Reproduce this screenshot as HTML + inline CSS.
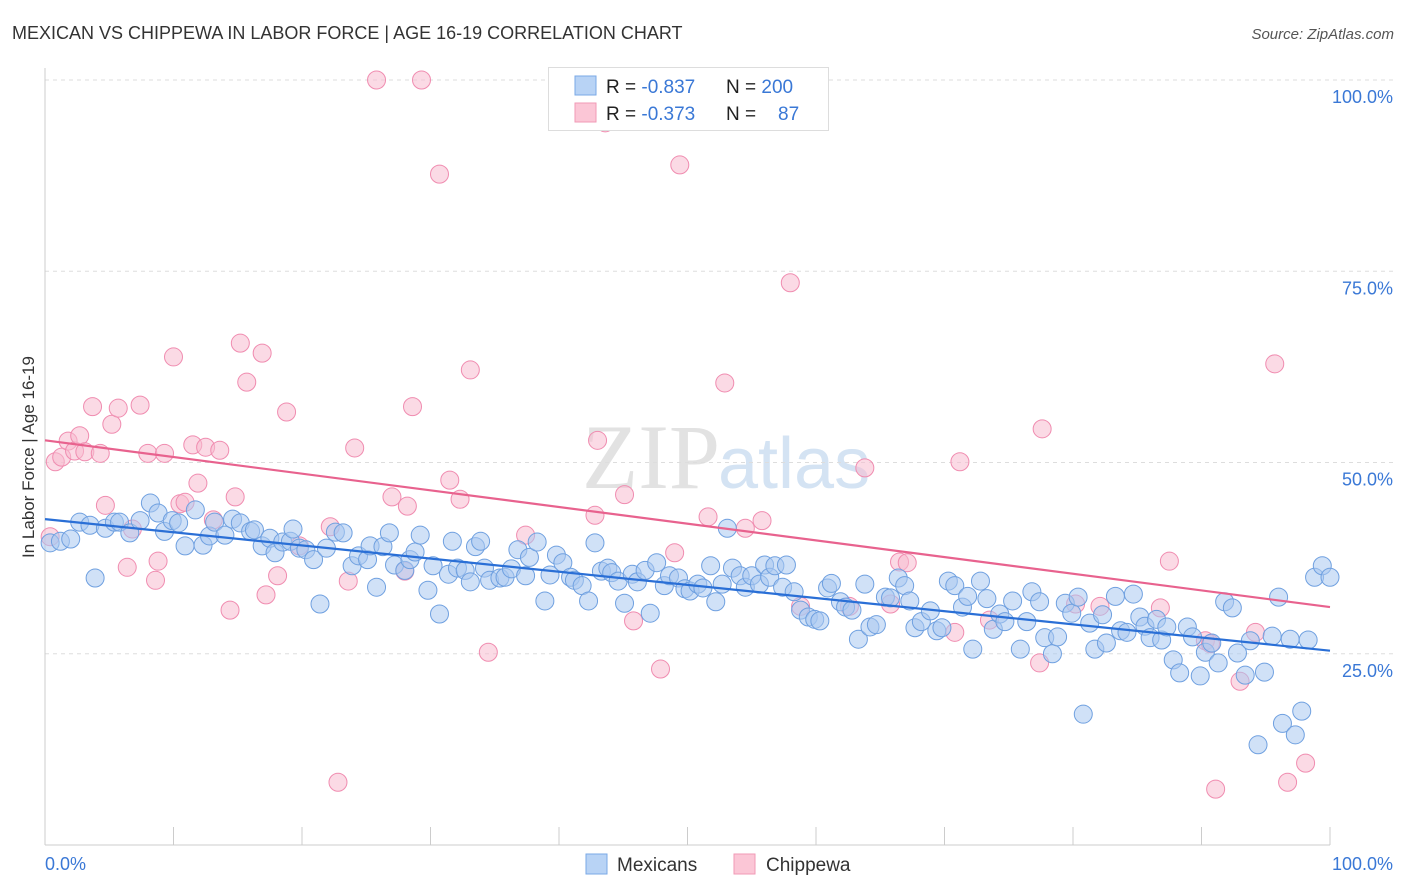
<!DOCTYPE html>
<html><head><meta charset="utf-8">
<style>
body{margin:0;background:#fff;width:1406px;height:892px;overflow:hidden;font-family:"Liberation Sans",sans-serif;}
svg{display:block}
</style></head>
<body>
<svg id="chart" width="1406" height="892">
<text x="12" y="39" font-size="18" fill="#333">MEXICAN VS CHIPPEWA IN LABOR FORCE | AGE 16-19 CORRELATION CHART</text>
<text x="1394" y="39" font-size="15" fill="#555" font-style="italic" text-anchor="end">Source: ZipAtlas.com</text>
<text x="720" y="488" font-size="92" fill="#e2e2e2" text-anchor="end" font-family="Liberation Serif,serif">ZIP</text>
<text x="718" y="488" font-size="72" fill="#d4e3f3">atlas</text>
<g id="grid"></g>
<g id="axes"></g>
<g id="pts"></g>
<g id="trends"></g>
<text transform="translate(34,457) rotate(-90)" font-size="17" fill="#333" text-anchor="middle">In Labor Force | Age 16-19</text>
<g>
<rect x="548.5" y="67.5" width="280" height="63" fill="#fff" stroke="#ddd"/>
<rect x="575" y="76" width="21" height="19" fill="#b8d3f5" stroke="#7aa8e6"/>
<rect x="575" y="103" width="21" height="19" fill="#fbc6d6" stroke="#f09ab6"/>
<text x="606" y="93" font-size="19" fill="#222">R = <tspan fill="#3a78d6">-0.837</tspan></text>
<text x="726" y="93" font-size="19" fill="#222">N = <tspan fill="#3a78d6">200</tspan></text>
<text x="606" y="120" font-size="19" fill="#222">R = <tspan fill="#3a78d6">-0.373</tspan></text>
<text x="726" y="120" font-size="19" fill="#222">N = <tspan fill="#3a78d6" x="778">87</tspan></text>
</g>
<g>
<rect x="586" y="854" width="21" height="20" fill="#b8d3f5" stroke="#7aa8e6"/>
<text x="617" y="871" font-size="19" fill="#333">Mexicans</text>
<rect x="734" y="854" width="21" height="20" fill="#fbc6d6" stroke="#f09ab6"/>
<text x="766" y="871" font-size="19" fill="#333">Chippewa</text>
</g>
</svg>
<script>
const blueX=[0.4,1.2,2.0,2.7,3.5,3.9,4.7,5.4,5.8,6.6,7.4,8.2,8.8,9.3,9.9,10.4,10.9,11.7,12.3,12.8,13.2,14.0,14.6,15.2,16.0,16.3,16.9,17.5,17.9,18.5,19.1,19.3,19.8,20.3,20.9,21.4,21.9,22.6,23.2,23.9,24.4,25.1,25.3,25.8,26.3,26.8,27.2,28.0,28.4,28.8,29.2,29.8,30.2,30.7,31.4,31.7,32.1,32.7,33.1,33.5,33.9,34.2,34.6,35.4,35.8,36.3,36.8,37.4,37.7,38.3,38.9,39.3,39.8,40.3,40.9,41.2,41.8,42.3,42.8,43.3,43.8,44.1,44.6,45.1,45.7,46.1,46.7,47.1,47.6,48.2,48.6,49.3,49.8,50.2,50.8,51.2,51.8,52.2,52.7,53.1,53.5,54.1,54.5,55.0,55.6,56.0,56.4,56.8,57.4,57.7,58.3,58.8,59.4,59.9,60.3,60.9,61.2,61.9,62.3,62.8,63.3,63.8,64.2,64.7,65.4,65.8,66.4,66.9,67.3,67.7,68.2,68.9,69.4,69.8,70.3,70.8,71.4,71.8,72.2,72.8,73.3,73.8,74.3,74.7,75.3,75.9,76.4,76.8,77.4,77.8,78.4,78.8,79.4,79.9,80.4,80.8,81.3,81.7,82.3,82.6,83.3,83.7,84.2,84.7,85.2,85.6,86.0,86.5,86.9,87.3,87.8,88.3,88.9,89.3,89.9,90.3,90.8,91.3,91.8,92.4,92.8,93.4,93.8,94.4,94.9,95.5,96.0,96.3,96.9,97.3,97.8,98.3,98.8,99.4,100];
const blueY=[39.5,39.7,40.0,42.2,41.8,34.9,41.4,42.2,42.2,40.8,42.4,44.7,43.4,41.0,42.4,42.1,39.1,43.8,39.2,40.4,42.2,40.5,42.6,42.1,41.0,41.2,39.1,40.1,38.2,39.6,39.7,41.3,38.8,38.6,37.3,31.5,38.8,40.9,40.8,36.5,37.8,37.3,39.1,33.7,39.0,40.8,36.6,35.9,37.3,38.3,40.5,33.3,36.5,30.2,35.4,39.7,36.2,35.9,34.4,39.0,39.7,36.2,34.6,34.9,35.0,36.1,38.6,35.2,37.6,39.6,31.9,35.3,37.9,36.9,35.0,34.6,33.9,31.9,39.5,35.8,36.2,35.6,34.5,31.6,35.4,34.4,35.9,30.3,36.9,33.9,35.2,34.9,33.5,33.2,34.1,33.6,36.5,31.8,34.1,41.4,36.2,35.2,33.7,35.2,34.1,36.6,35.0,36.5,33.7,36.6,33.1,30.7,29.8,29.5,29.3,33.6,34.2,31.8,31.1,30.7,26.9,34.1,28.5,28.8,32.4,32.3,34.9,33.9,31.9,28.4,29.2,30.6,28.0,28.4,34.5,33.9,31.1,32.5,25.6,34.5,32.2,28.2,30.2,29.2,31.9,25.6,29.2,33.1,31.8,27.1,25.0,27.2,31.6,30.3,32.4,17.1,29.0,25.6,30.1,26.4,32.5,28.0,27.8,32.8,29.8,28.6,27.1,29.5,26.8,28.5,24.2,22.5,28.5,27.2,22.1,25.2,26.4,23.8,31.8,31.0,25.1,22.2,26.7,13.1,22.6,27.3,32.4,15.9,26.9,14.4,17.5,26.8,35.0,36.5,35.0];
const pinkX=[0.4,0.8,1.3,1.8,2.3,2.7,3.1,3.7,4.3,4.7,5.2,5.7,6.4,6.8,7.4,8.0,8.6,8.8,9.3,10.0,10.5,10.9,11.5,11.9,12.5,13.1,13.6,14.4,14.8,15.2,15.7,16.9,17.2,18.1,18.8,19.8,22.2,22.8,23.6,24.1,25.8,27.0,28.0,28.2,28.6,29.3,30.7,31.5,32.3,33.1,34.5,37.4,42.8,43.0,45.1,45.8,47.9,49.0,49.4,51.6,52.9,54.5,55.8,58.0,58.8,62.6,63.8,65.8,66.5,67.1,70.8,71.2,73.5,77.4,77.6,80.2,82.1,86.8,87.5,90.3,90.7,91.1,93.0,94.2,95.7,96.7,98.1,43.6];
const pinkY=[40.3,50.1,50.7,52.8,51.5,53.5,51.4,57.3,51.2,44.4,55.0,57.1,36.3,41.3,57.5,51.2,34.6,37.1,51.2,63.8,44.6,44.8,52.3,47.3,52.0,42.5,51.6,30.7,45.5,65.6,60.5,64.3,32.7,35.2,56.6,39.1,41.6,8.2,34.5,51.9,100,45.5,35.8,44.3,57.3,100,87.7,47.7,45.2,62.1,25.2,40.5,43.1,52.9,45.8,29.3,23.0,38.2,88.9,42.9,60.4,41.4,42.4,73.5,31.2,31.2,49.3,31.5,37.0,36.9,27.8,50.1,29.4,23.8,54.4,31.5,31.2,31.0,37.1,26.7,26.3,7.3,21.4,27.8,62.9,8.2,10.7,94.4];
const blueTrend=[42.6,25.4];
const pinkTrend=[52.9,31.1];
const yTicks=[25,50,75,100];
const yTickLabels=["25.0%","50.0%","75.0%","100.0%"];
const xTicks=[0,10,20,30,40,50,60,70,80,90,100];
const xEndLabels=["0.0%","100.0%"];

const X0=45,X1=1330,Y0=845,YPX=7.65;
const sx=v=>X0+(X1-X0)*v/100;
const sy=v=>Y0-YPX*v;
const NS="http://www.w3.org/2000/svg";
function mk(tag,parent,attrs){const e=document.createElementNS(NS,tag);for(const k in attrs)e.setAttribute(k,attrs[k]);document.getElementById(parent).appendChild(e);return e;}

yTicks.forEach((t,i)=>{
  const g=mk('line','grid',{x1:X0,x2:1393,y1:sy(t),y2:sy(t),stroke:'#ddd','stroke-dasharray':'4,4'});
  
  
  const l=mk('text','grid',{x:1393,y:sy(t)+23,'font-size':18,fill:'#3a78d6','text-anchor':'end'});
  l.textContent=yTickLabels[i];
  
  
});
const ax=mk('line','axes',{x1:X0,x2:X1,y1:Y0,y2:Y0,stroke:'#ccc'});


const ay=mk('line','axes',{x1:X0,x2:X0,y1:68,y2:Y0,stroke:'#ccc'});


xTicks.forEach(t=>{
  const k=mk('line','axes',{x1:sx(t),x2:sx(t),y1:Y0,y2:Y0-18,stroke:'#ccc'});
  
  
});
[[0,'start',45],[1,'end',1393]].forEach(([i,a,x])=>{
  const l=mk('text','axes',{x:x,y:870,'font-size':18,fill:'#3a78d6','text-anchor':a});
  l.textContent=xEndLabels[i];
  
  
});
function pts(xs,ys,fill,stroke,name){
  xs.forEach((x,i)=>{
    const c=mk('circle','pts',{cx:sx(x),cy:sy(ys[i]),r:9,fill:fill,'fill-opacity':0.55,stroke:stroke,'stroke-width':1});
    
    
  });
}
pts(pinkX,pinkY,'#f8bcd0','#f08cb0','chippewa-point');
pts(blueX,blueY,'#a9c8f0','#6fa0e0','mexican-point');
const tb=mk('line','trends',{x1:sx(0),y1:sy(blueTrend[0]),x2:sx(100),y2:sy(blueTrend[1]),stroke:'#2a6fd6','stroke-width':2.2});


const tp=mk('line','trends',{x1:sx(0),y1:sy(pinkTrend[0]),x2:sx(100),y2:sy(pinkTrend[1]),stroke:'#e8628e','stroke-width':2.2});


</script>
</body></html>
